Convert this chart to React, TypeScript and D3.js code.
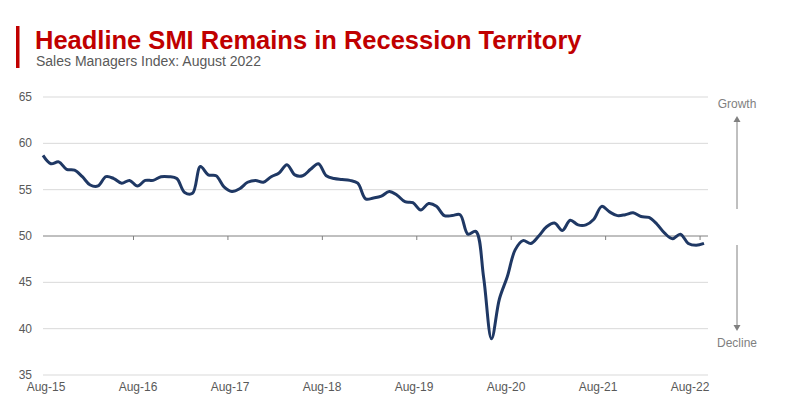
import React from "react";
import * as d3 from "d3";

// monthly SMI, Aug-15 .. Aug-22
const smi = [
  58.7, 57.8, 58.0, 57.2, 57.1, 56.4, 55.5, 55.4, 56.4, 56.2, 55.7, 56.0,
  55.4, 56.0, 56.0, 56.4, 56.4, 56.2, 54.7, 54.6, 57.5, 56.6, 56.5, 55.3,
  54.8, 55.1, 55.8, 56.0, 55.8, 56.4, 56.8, 57.7, 56.6, 56.5, 57.2, 57.8,
  56.5, 56.2, 56.1, 56.0, 55.7, 54.0, 54.1, 54.3, 54.8, 54.4, 53.7, 53.6,
  52.8, 53.5, 53.2, 52.2, 52.2, 52.3, 50.2, 50.5, 45.5, 38.9, 43.2, 45.6,
  48.5, 49.5, 49.2, 50.0, 51.0, 51.4, 50.6, 51.7, 51.2, 51.2, 51.8, 53.2,
  52.6, 52.2, 52.3, 52.5, 52.1, 52.0, 51.3, 50.3, 49.7, 50.2, 49.2, 49.0,
  49.2,
];
const yearLabels = ["Aug-15", "Aug-16", "Aug-17", "Aug-18", "Aug-19", "Aug-20", "Aug-21", "Aug-22"];
const yTicks = [35, 40, 45, 50, 55, 60, 65];

const font = "'Liberation Sans', Arial, sans-serif";

const App: React.FC = () => {
  const width = 800;
  const height = 420;
  const x = d3.scaleLinear().domain([0, smi.length - 1]).range([43, 704]);
  const y = d3.scaleLinear().domain([35, 65]).range([375, 97]);
  const labelX = d3.scalePoint<string>().domain(yearLabels).range([46, 690]);
  const gridRight = 708;

  const line = d3
    .line<number>()
    .x((_, i) => x(i))
    .y((d) => y(d))
    .curve(d3.curveCatmullRom.alpha(0.5));

  const arrowX = 737;

  return (
    <svg
      width={width}
      height={height}
      style={{ position: "absolute", left: 0, top: 0, background: "#fff" }}
      fontFamily={font}
    >
      {/* header */}
      <rect x={16} y={26} width={3.5} height={42} fill="#c00000" />
      <text x={35} y={49} fontSize={25.5} fontWeight="bold" fill="#c00000">
        Headline SMI Remains in Recession Territory
      </text>
      <text x={36} y={66} fontSize={14} fill="#595959">
        Sales Managers Index: August 2022
      </text>

      {/* grid */}
      {yTicks.map((t) => (
        <g key={t}>
          {t !== 50 && (
            <line x1={43} x2={gridRight} y1={y(t)} y2={y(t)} stroke="#d9d9d9" strokeWidth={1} />
          )}
          <text x={32} y={y(t) + 4} fontSize={12} fill="#595959" textAnchor="end">
            {t}
          </text>
        </g>
      ))}
      {/* 50 line with year ticks */}
      <line x1={43} x2={gridRight} y1={y(50)} y2={y(50)} stroke="#808080" strokeWidth={1} />
      {yearLabels.slice(1).map((l, k) => (
        <line
          key={l}
          x1={x(12 * (k + 1) - 0.5)}
          x2={x(12 * (k + 1) - 0.5)}
          y1={y(50)}
          y2={y(50) + 4}
          stroke="#808080"
        />
      ))}

      {/* x labels */}
      {yearLabels.map((l) => (
        <text key={l} x={labelX(l)} y={391} fontSize={12} fill="#595959" textAnchor="middle">
          {l}
        </text>
      ))}

      {/* series */}
      <path d={line(smi) || ""} fill="none" stroke="#1f3864" strokeWidth={3} strokeLinejoin="round" />

      {/* growth / decline annotation */}
      <text x={arrowX} y={108} fontSize={12} fill="#7f7f7f" textAnchor="middle">
        Growth
      </text>
      <line x1={arrowX} x2={arrowX} y1={209} y2={121} stroke="#808080" strokeWidth={1} />
      <path d={`M${arrowX - 3.5},${122} L${arrowX},${116} L${arrowX + 3.5},${122} Z`} fill="#808080" />
      <line x1={arrowX} x2={arrowX} y1={245} y2={326} stroke="#808080" strokeWidth={1} />
      <path d={`M${arrowX - 3.5},${325} L${arrowX},${331} L${arrowX + 3.5},${325} Z`} fill="#808080" />
      <text x={arrowX} y={347} fontSize={12} fill="#7f7f7f" textAnchor="middle">
        Decline
      </text>
    </svg>
  );
};

export default App;
